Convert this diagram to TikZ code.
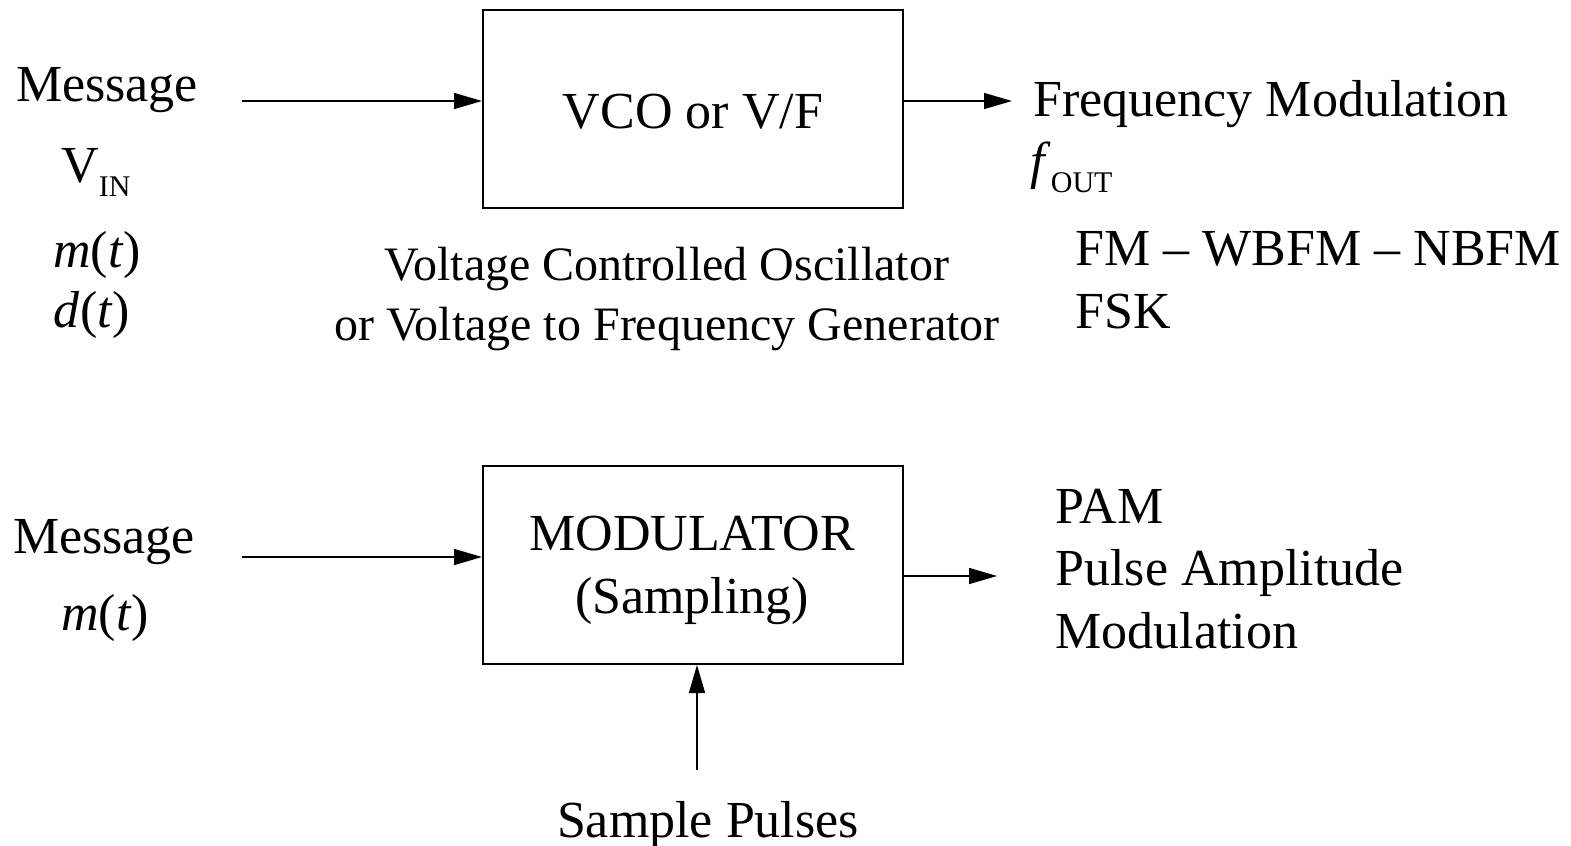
\documentclass[tikz,border=0pt]{standalone}
\usepackage{fontspec}
\setmainfont{Liberation Serif}
\usetikzlibrary{arrows.meta, positioning}

\newcommand{\lowsub}[1]{\raisebox{-7pt}{\fontsize{15}{15}\selectfont #1}}

\begin{document}
\begin{tikzpicture}[
        x=0.5pt, y=-0.5pt,
        block/.style={draw, line width=1pt, minimum width=210pt, minimum height=99pt, inner sep=0pt},
        sig/.style={line width=0.8pt, -{Triangle[length=14pt, width=8pt]}},
        lbl/.style={anchor=base, inner sep=0pt, font=\fontsize{26}{30}\selectfont},
        lblw/.style={lbl, anchor=base west},
        note/.style={lbl, font=\fontsize{24}{28}\selectfont}
    ]
        \useasboundingbox (0,0) rectangle (1571,846);

        % top chain
        \node[block] (vco) at (693,109) {};
        \node[lbl] (vcotxt) at (693,128) {VCO or V/F};
        \coordinate (in1) at (242,101);
        \coordinate (out1) at (1012,101);
        \draw[sig] (in1) -- (vco.west |- in1);
        \draw[sig] (vco.east |- out1) -- (out1);

        \node[lbl] (msg1) at (107,101) {Message};
        \node[lbl] (vin) at (96,182) {V\lowsub{IN}};
        \node[lbl] (mt1) at (97,267) {\textit{m}(\textit{t})};
        \node[lbl] (dt1) at (92,327) {\textit{d}(\textit{t})};

        \node[note] (vco1) at (667,280) {Voltage Controlled Oscillator};
        \node[note] (vco2) at (667,340) {or Voltage to Frequency Generator};

        \node[lblw] (fm1) at (1033,116) {Frequency Modulation};
        \node[lblw] (fout) at (1030,178) {\textit{f}\lowsub{OUT}};
        \node[lblw] (fm2) at (1075,265) {FM -- WBFM -- NBFM};
        \node[lblw] (fsk) at (1075,328) {FSK};

        % bottom chain
        \node[block] (mod) at (693,565) {};
        \node[lbl] (modtxt) at (692,550) {MODULATOR};
        \node[lbl] (samp) at (692,613) {(Sampling)};
        \coordinate (in2) at (242,557);
        \coordinate (out2) at (997,576);
        \coordinate (spin) at (697,770);
        \draw[sig] (in2) -- (mod.west |- in2);
        \draw[sig] (mod.east |- out2) -- (out2);
        \draw[sig] (spin) -- (mod.south -| spin);

        \node[lbl] (msg2) at (104,553) {Message};
        \node[lbl] (mt2) at (105,630) {\textit{m}(\textit{t})};
        \node[lbl] (pulses) at (708,837) {Sample Pulses};

        \node[lblw] (pam1) at (1055,523) {PAM};
        \node[lblw] (pam2) at (1055,585) {Pulse Amplitude};
        \node[lblw] (pam3) at (1055,648) {Modulation};
    \end{tikzpicture}
\end{document}
